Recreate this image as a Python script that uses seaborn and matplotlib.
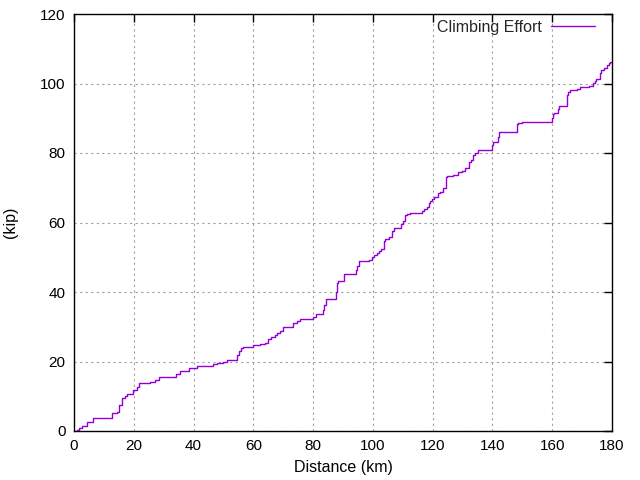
import matplotlib
matplotlib.use("Agg")
import matplotlib.pyplot as plt
import seaborn as sns
import pandas as pd

distance_km = [0, 0.9, 1.8, 2.6, 4.2, 6.5, 12.8, 14.3, 15.0, 15.9, 17.1, 17.8, 19.8, 21.0, 21.6,
               25.4, 27.1, 28.5, 34.1, 35.5, 38.6, 41.0, 46.6, 47.7, 50.0, 51.3, 54.6, 55.3, 56.0,
               56.5, 60.0, 62.2, 63.9, 65.0, 66.0, 67.2, 68.0, 68.9, 70.0, 73.4, 74.5, 75.6, 80.0,
               81.0, 83.2, 83.8, 84.3, 87.7, 88.0, 88.4, 90.4, 94.3, 94.8, 95.3, 98.8, 99.6, 100.4,
               101.3, 102.0, 102.8, 103.7, 104.1, 105.3, 106.5, 107.0, 109.3, 110.0, 110.7, 111.3,
               112.3, 116.3, 117.2, 118.2, 118.8, 119.2, 119.8, 120.5, 121.9, 122.6, 123.3, 124.5,
               124.9, 126.9, 128.6, 129.7, 130.9, 132.2, 132.7, 133.6, 134.2, 135.3, 139.9, 140.2,
               141.7, 142.2, 148.1, 148.4, 149.9, 153.7, 160.0, 160.3, 160.7, 161.8, 162.4, 165.0,
               165.4, 166.0, 168.2, 169.3, 172.4, 173.7, 174.2, 174.7, 176.0, 176.3, 177.2, 178.2,
               179.0, 179.4, 179.6]
effort_kip = [0, 0.3, 1.0, 1.5, 2.6, 3.65, 5.1, 5.6, 7.5, 9.4, 10.2, 10.6, 11.8, 12.75, 13.7,
              14.2, 14.7, 15.4, 16.5, 17.3, 18.0, 18.6, 19.2, 19.6, 20.0, 20.4, 22.0, 23.1, 23.8,
              24.25, 24.65, 24.9, 25.2, 26.4, 27.0, 27.6, 28.3, 28.8, 30.0, 31.2, 31.6, 32.3, 32.9,
              33.7, 34.8, 36.3, 37.9, 40.0, 42.5, 43.2, 45.1, 46.3, 47.6, 48.8, 49.2, 50.2, 50.6,
              51.1, 51.8, 52.3, 54.7, 55.2, 55.9, 57.6, 58.3, 59.5, 60.4, 62.1, 62.5,
              62.7, 63.3, 63.9, 64.4, 65.5, 66.2, 66.9, 67.4, 68.4, 68.9, 69.8, 73.0,
              73.4, 73.8, 74.4, 74.9, 75.8, 77.5, 78.0, 79.3, 80.1, 80.9, 82.3, 83.3,
              84.5, 86.0, 88.3, 88.6, 88.8, 88.9, 90.0, 91.2, 91.6, 92.6, 93.4, 96.7,
              97.6, 98.0, 98.3, 98.9, 99.3, 100.1, 100.7, 101.2, 102.9, 104.0, 104.6, 105.3,
              105.8, 106.2, 106.2]
x_ticks = [0, 20, 40, 60, 80, 100, 120, 140, 160, 180]
y_ticks = [0, 20, 40, 60, 80, 100, 120]
series_name = "Climbing Effort"

df = pd.DataFrame({"Distance (km)": distance_km, "kip": effort_kip, "series": series_name})

sns.set_style("white")
plt.rcParams["font.family"] = ["Liberation Sans", "DejaVu Sans"]
plt.rcParams["font.size"] = 11

fig = plt.figure(figsize=(6.4, 4.8), dpi=100)
ax = fig.add_axes([74/640, 1-431/480, (612-74)/640, (431-14)/480])

sns.lineplot(data=df, x="Distance (km)", y="kip", hue="series", palette=["#9400d3"],
             drawstyle="steps-post", estimator=None, sort=False, linewidth=1, ax=ax)

ax.set_xlim(0, 180)
ax.set_ylim(0, 120)
ax.set_xticks(x_ticks)
ax.set_yticks(y_ticks)
ax.set_xlabel("Distance (km)", fontsize=11.5, color="black", labelpad=5)
ax.set_ylabel("(kip)", fontsize=11.5, color="black", labelpad=16)
ax.grid(True, color="#a0a0a0", linestyle=(0, (2, 3)), linewidth=0.8)
ax.tick_params(direction="in", length=6, width=1, top=True, right=True,
               labelsize=11, colors="black", pad=6)
for s in ax.spines.values():
    s.set_visible(True)
    s.set_color("black")
    s.set_linewidth(1)

leg = ax.legend(loc="upper right", bbox_to_anchor=((595-74)/538, 1 - (20-14)/417),
                frameon=False, markerfirst=False, handlelength=2.75,
                fontsize=11.5, borderaxespad=0, borderpad=0, handletextpad=0.55)

fig.savefig("out.png", dpi=100)
